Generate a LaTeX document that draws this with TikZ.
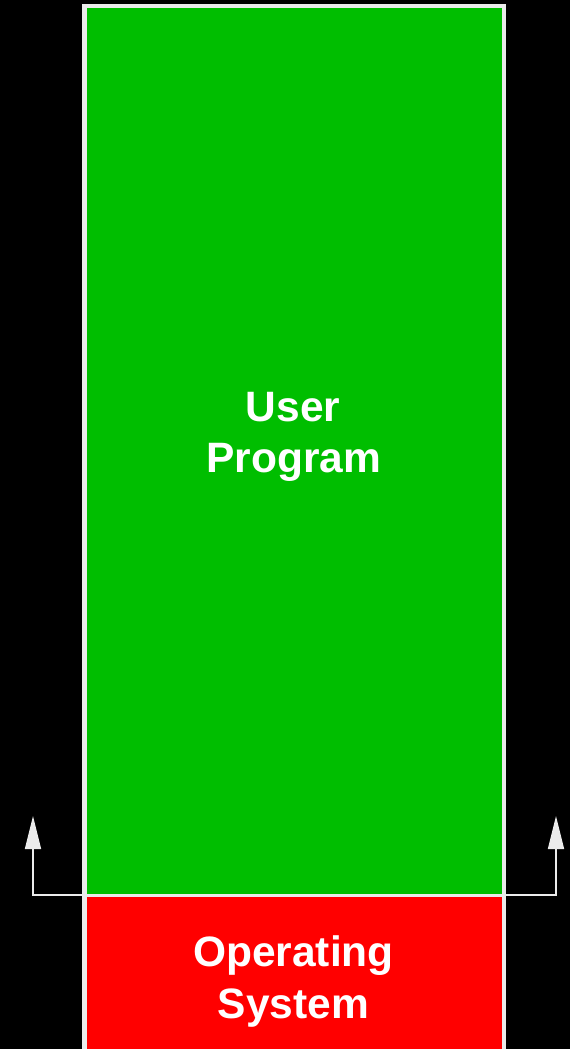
\documentclass[tikz,border=0pt]{standalone}
\usepackage{fontspec}
\setmainfont{Liberation Sans}
\usetikzlibrary{arrows.meta}
\definecolor{progGreen}{RGB}{0,190,0}
\definecolor{osRed}{RGB}{255,0,0}
\definecolor{edgeWhite}{RGB}{235,235,235}
\tikzset{
  memblock/.style={draw=none, inner sep=0pt, outer sep=0pt, minimum width=419.5pt},
  outline/.style={draw=edgeWhite, line width=4.5pt},
  divider/.style={draw=edgeWhite, line width=3pt},
  label/.style={text=white, font=\bfseries\fontsize{42.5}{51}\selectfont, inner sep=0pt, anchor=base},
  uparrow/.style={draw=edgeWhite, line width=1.7pt, -{Triangle[length=33pt,width=16pt]}}
}
\begin{document}
\begin{tikzpicture}[x=1pt,y=-1pt]
\useasboundingbox (0,0) rectangle (570,1049);
\fill[black] (0,0) rectangle (570,1049);
\clip (0,0) rectangle (570,1049);
\node[memblock, fill=osRed, minimum height=175pt] (osbox) at (294.25,982.5) {};
\node[memblock, fill=progGreen, minimum height=889pt] (userbox) at (294.25,450.5) {};
\draw[outline] (osbox.south west) -- (userbox.north west) -- (userbox.north east) -- (osbox.south east);
\draw[divider] (osbox.north west) -- (osbox.north east);
\node[label] (user) at (293,421) {User};
\node[label] (program) at (294,472) {Program};
\node[label] (operating) at (293.5,966.5) {Operating};
\node[label] (system) at (293.5,1018) {System};
\coordinate (lcorner) at (33,895);
\coordinate (ltip) at (33,816);
\coordinate (rcorner) at (556,895);
\coordinate (rtip) at (556,816);
\draw[uparrow] (userbox.south west) -- (lcorner) -- (ltip);
\draw[uparrow] (userbox.south east) -- (rcorner) -- (rtip);
\end{tikzpicture}
\end{document}
